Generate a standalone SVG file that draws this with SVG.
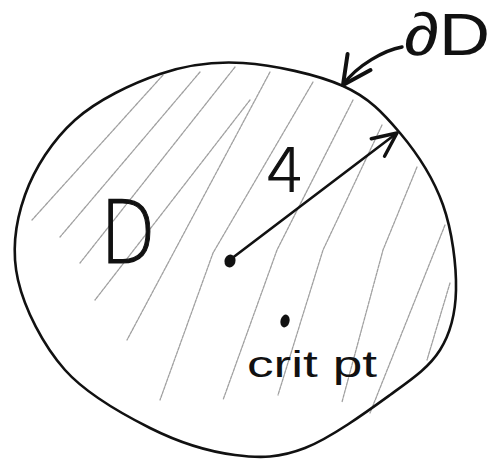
<svg xmlns="http://www.w3.org/2000/svg" width="503" height="461" viewBox="0 0 503 461">
<style>
.ink{fill:none;stroke:#111;stroke-width:2.6;stroke-linecap:round;stroke-linejoin:round}
.bold{stroke-width:3.4}
.hatch{fill:none;stroke:#a0a0a0;stroke-width:1.3;stroke-dasharray:3 1.2;stroke-linecap:round;stroke-linejoin:round}
.lbl{font-family:"Liberation Sans","DejaVu Sans",sans-serif;fill:#111}
.thin{font-family:"DejaVu Sans","Liberation Sans",sans-serif;font-weight:200;fill:#111;stroke:#111;stroke-width:1.2}
.dot{fill:#111}
</style>
<defs>
<marker id="head" markerUnits="userSpaceOnUse" markerWidth="40" markerHeight="40" viewBox="-30 -20 40 40" refX="0" refY="0" orient="auto">
<path d="M -24 -11 L 0 0 L -24 11" fill="none" stroke="#111" stroke-width="3.4" stroke-linecap="round" stroke-linejoin="round"/>
</marker>
<marker id="head2" markerUnits="userSpaceOnUse" markerWidth="44" markerHeight="44" viewBox="-34 -22 44 44" refX="0" refY="0" orient="auto">
<path d="M -28 -14 L 0 0 L -28 14" fill="none" stroke="#111" stroke-width="4" stroke-linecap="round" stroke-linejoin="round"/>
</marker>
</defs>
<g id="hatching">
<polyline class="hatch" points="163,75 32,220"/>
<polyline class="hatch" points="200,72 60,237"/>
<polyline class="hatch" points="235,67 80,263"/>
<polyline class="hatch" points="250,100 95,300"/>
<polyline class="hatch" points="270,72 175,250 127,340"/>
<polyline class="hatch" points="313,82 213,253 160,400"/>
<polyline class="hatch" points="353,100 277,250 223,400"/>
<polyline class="hatch" points="382,125 323,250 278,395"/>
<polyline class="hatch" points="417,167 383,250 342,402"/>
<polyline class="hatch" points="445,225 370,413"/>
<polyline class="hatch" points="450,283 427,360"/>
</g>
<g id="region-D">
<path class="ink" d="M243,63 C273.5,65 316.8,74.3 343,86 C369.2,97.7 383.3,113.2 400,133 C416.7,152.8 433.7,178.8 443,205 C452.3,231.2 456.5,265.8 456,290 C455.5,314.2 451,332.5 440,350 C429,367.5 412.5,378.7 390,395 C367.5,411.3 330.8,438 305,448 C279.2,458 260.8,458.3 235,455 C209.2,451.7 178.3,442.2 150,428 C121.7,413.8 87,394.7 65,370 C43,345.3 24.7,309.2 18,280 C11.3,250.8 15.5,221.7 25,195 C34.5,168.3 52.5,140.2 75,120 C97.5,99.8 132,83.5 160,74 C188,64.5 212.5,61 243,63 Z"/>
<text class="thin" x="100" y="263" font-size="88" textLength="56" lengthAdjust="spacingAndGlyphs">D</text>
</g>
<g id="label-boundary">
<text class="lbl" x="404" y="55" font-size="60" textLength="86" lengthAdjust="spacingAndGlyphs">∂D</text>
</g>
<g id="center">
<ellipse class="dot" cx="230" cy="261" rx="5.5" ry="6.5" transform="rotate(20 230 261)"/>
</g>
<g id="crit-pt">
<ellipse class="dot" cx="285" cy="321" rx="4.5" ry="6.5" transform="rotate(15 285 321)"/>
<text class="lbl" x="247" y="377" font-size="36" textLength="130" lengthAdjust="spacingAndGlyphs">crit pt</text>
</g>
<g id="connectors">
<line class="ink" x1="231" y1="259" x2="397" y2="133" marker-end="url(#head)"/>
<text class="thin" x="266" y="192" font-size="60">4</text>
<path class="ink bold" d="M402,47 C385,50 357,65 343,85" marker-end="url(#head2)"/>
</g>
</svg>
